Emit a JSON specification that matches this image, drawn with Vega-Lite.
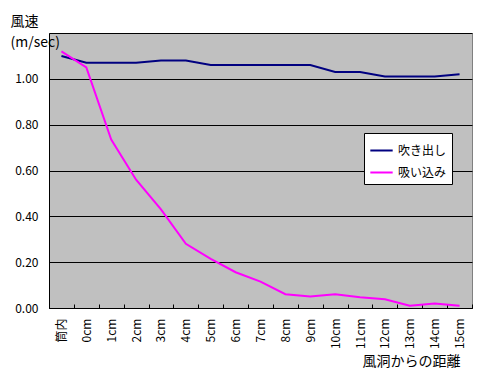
{
  "$schema": "https://vega.github.io/schema/vega-lite/v6.json",
  "width": 423,
  "height": 275,
  "autosize": {"type": "none"},
  "padding": {"left": 49, "top": 33, "right": 8, "bottom": 70},
  "background": "white",
  "config": {
    "font": "Noto Sans CJK JP",
    "view": {"fill": "#c0c0c0", "stroke": "#808080", "strokeWidth": 1}
  },
  "data": {
    "values": [
      {"pos": "筒内", "series": "吹き出し", "v": 1.10},
      {"pos": "0cm", "series": "吹き出し", "v": 1.07},
      {"pos": "1cm", "series": "吹き出し", "v": 1.07},
      {"pos": "2cm", "series": "吹き出し", "v": 1.07},
      {"pos": "3cm", "series": "吹き出し", "v": 1.08},
      {"pos": "4cm", "series": "吹き出し", "v": 1.08},
      {"pos": "5cm", "series": "吹き出し", "v": 1.06},
      {"pos": "6cm", "series": "吹き出し", "v": 1.06},
      {"pos": "7cm", "series": "吹き出し", "v": 1.06},
      {"pos": "8cm", "series": "吹き出し", "v": 1.06},
      {"pos": "9cm", "series": "吹き出し", "v": 1.06},
      {"pos": "10cm", "series": "吹き出し", "v": 1.03},
      {"pos": "11cm", "series": "吹き出し", "v": 1.03},
      {"pos": "12cm", "series": "吹き出し", "v": 1.01},
      {"pos": "13cm", "series": "吹き出し", "v": 1.01},
      {"pos": "14cm", "series": "吹き出し", "v": 1.01},
      {"pos": "15cm", "series": "吹き出し", "v": 1.02},
      {"pos": "筒内", "series": "吸い込み", "v": 1.12},
      {"pos": "0cm", "series": "吸い込み", "v": 1.05},
      {"pos": "1cm", "series": "吸い込み", "v": 0.735},
      {"pos": "2cm", "series": "吸い込み", "v": 0.56},
      {"pos": "3cm", "series": "吸い込み", "v": 0.43},
      {"pos": "4cm", "series": "吸い込み", "v": 0.28},
      {"pos": "5cm", "series": "吸い込み", "v": 0.214},
      {"pos": "6cm", "series": "吸い込み", "v": 0.156},
      {"pos": "7cm", "series": "吸い込み", "v": 0.115},
      {"pos": "8cm", "series": "吸い込み", "v": 0.06},
      {"pos": "9cm", "series": "吸い込み", "v": 0.05},
      {"pos": "10cm", "series": "吸い込み", "v": 0.06},
      {"pos": "11cm", "series": "吸い込み", "v": 0.047},
      {"pos": "12cm", "series": "吸い込み", "v": 0.038},
      {"pos": "13cm", "series": "吸い込み", "v": 0.01},
      {"pos": "14cm", "series": "吸い込み", "v": 0.02},
      {"pos": "15cm", "series": "吸い込み", "v": 0.01}
    ]
  },
  "mark": {"type": "line", "strokeWidth": 2},
  "encoding": {
    "x": {
      "field": "pos",
      "type": "nominal",
      "sort": ["筒内", "0cm", "1cm", "2cm", "3cm", "4cm", "5cm", "6cm", "7cm", "8cm", "9cm", "10cm", "11cm", "12cm", "13cm", "14cm", "15cm"],
      "scale": {"type": "band", "paddingInner": 0, "paddingOuter": 0},
      "axis": {
        "title": "風洞からの距離",
        "titleFontSize": 14,
        "titleFontWeight": "normal",
        "titleColor": "black",
        "titleAlign": "left",
        "titleBaseline": "top",
        "titleX": 313,
        "titleY": 46,
        "labelAngle": -90,
        "labelAlign": "right",
        "labelBaseline": "middle",
        "labelFontSize": 12,
        "labelColor": "black",
        "labelPadding": 14,
        "tickBand": "extent",
        "tickSize": -4,
        "tickColor": "black",
        "domainColor": "black",
        "grid": false
      }
    },
    "y": {
      "field": "v",
      "type": "quantitative",
      "scale": {"domain": [0, 1.2], "nice": false},
      "axis": {
        "values": [0, 0.2, 0.4, 0.6, 0.8, 1.0, 1.2],
        "labelExpr": "datum.value > 1.1 ? '' : format(datum.value, '.2f')",
        "labelFontSize": 12,
        "labelColor": "black",
        "labelPadding": 11,
        "ticks": false,
        "domainColor": "black",
        "grid": true,
        "gridColor": "black",
        "gridOpacity": 1,
        "title": ["風速", "(m/sec)"],
        "titleFontSize": 14,
        "titleFontWeight": "normal",
        "titleColor": "black",
        "titleAngle": 0,
        "titleAlign": "left",
        "titleBaseline": "top",
        "titleLineHeight": 21,
        "titleX": -39,
        "titleY": -19
      }
    },
    "color": {
      "field": "series",
      "type": "nominal",
      "scale": {"domain": ["吹き出し", "吸い込み"], "range": ["#000080", "#ff00ff"]},
      "legend": {
        "title": null,
        "orient": "none",
        "legendX": 315,
        "legendY": 100,
        "fillColor": "white",
        "strokeColor": "black",
        "padding": 5,
        "symbolType": "stroke",
        "symbolStrokeWidth": 2,
        "symbolSize": 500,
        "labelFontSize": 12,
        "labelColor": "black",
        "rowPadding": 3
      }
    }
  }
}
